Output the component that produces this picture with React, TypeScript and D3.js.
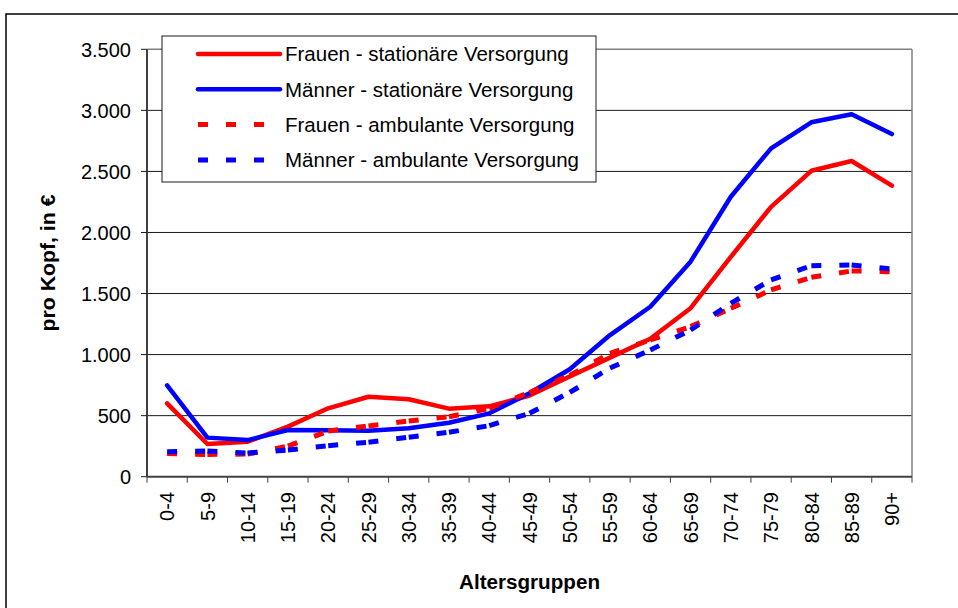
import React from 'react';
import * as d3 from 'd3';

const categories = ['0-4', '5-9', '10-14', '15-19', '20-24', '25-29', '30-34', '35-39', '40-44', '45-49',
  '50-54', '55-59', '60-64', '65-69', '70-74', '75-79', '80-84', '85-89', '90+'];

const frauenStationaer = [600, 268, 287, 410, 560, 655, 634, 557, 576, 665, 820, 975, 1130, 1380, 1800, 2210, 2505, 2585, 2383];
const maennerStationaer = [748, 320, 300, 382, 380, 377, 396, 442, 519, 683, 880, 1160, 1392, 1761, 2293, 2689, 2902, 2968, 2806];
const frauenAmbulant = [191, 182, 186, 250, 374, 415, 456, 491, 560, 690, 830, 1010, 1120, 1229, 1379, 1529, 1633, 1685, 1679];
const maennerAmbulant = [205, 210, 194, 219, 254, 282, 323, 364, 418, 519, 690, 890, 1037, 1201, 1420, 1611, 1728, 1734, 1701];

const yTicks = [0, 500, 1000, 1500, 2000, 2500, 3000, 3500];

const series = [
  { name: 'Frauen - stationäre Versorgung', values: frauenStationaer, color: '#ff0000', dashed: false },
  { name: 'Männer - stationäre Versorgung', values: maennerStationaer, color: '#0000ff', dashed: false },
  { name: 'Frauen - ambulante Versorgung', values: frauenAmbulant, color: '#ff0000', dashed: true },
  { name: 'Männer - ambulante Versorgung', values: maennerAmbulant, color: '#0000ff', dashed: true },
];

const W = 958;
const H = 608;
const left = 147, right = 912, top = 49.3, bottom = 476.7;
const font = '"Liberation Sans", Arial, sans-serif';

const de = d3.formatLocale({ decimal: ',', thousands: '.', grouping: [3], currency: ['', '€'] });
const fmt = de.format(',');

export default function App() {
  const x = d3.scaleBand().domain(categories).range([left, right]).padding(0);
  const y = d3.scaleLinear().domain([0, 3500]).range([bottom, top]);
  const cx = (c: string) => (x(c) as number) + x.bandwidth() / 2;

  const line = d3.line<number>()
    .x((d, i) => cx(categories[i]))
    .y(d => y(d));

  // dashed lines: every segment drawn on its own, so the pattern restarts at each point
  const segLine = d3.line<[string, number]>()
    .x(d => cx(d[0]))
    .y(d => y(d[1]));

  return (
    <svg width={W} height={H} style={{ position: 'absolute', left: 0, top: 0, background: '#fff' }}
      fontFamily={font}>
      <rect x={6} y={14} width={W + 20} height={H + 20} fill="#fff" stroke="#000" strokeWidth={1.5} />

      {/* grid */}
      {yTicks.slice(1, -1).map(t => (
        <line key={t} x1={left} x2={right} y1={y(t)} y2={y(t)} stroke="#1a1a1a" strokeWidth={1} />
      ))}
      <line x1={left} x2={right} y1={y(3500)} y2={y(3500)} stroke="#808080" strokeWidth={1.5} />
      <line x1={right} x2={right} y1={top} y2={bottom} stroke="#808080" strokeWidth={1.5} />

      {/* y axis */}
      <line x1={left} x2={left} y1={top} y2={bottom} stroke="#404040" strokeWidth={2} />
      {yTicks.map(t => (
        <g key={t}>
          <line x1={left - 6} x2={left} y1={y(t)} y2={y(t)} stroke="#1a1a1a" strokeWidth={1} />
          <text x={131} y={y(t)} dy="0.36em" textAnchor="end" fontSize={20} fill="#000">{fmt(t)}</text>
        </g>
      ))}

      {/* x axis */}
      <line x1={left} x2={right} y1={bottom} y2={bottom} stroke="#404040" strokeWidth={2} />
      {categories.map(c => (
        <line key={'t' + c} x1={x(c)} x2={x(c)} y1={bottom} y2={bottom + 6} stroke="#404040" strokeWidth={1} />
      ))}
      <line x1={right} x2={right} y1={bottom} y2={bottom + 6} stroke="#404040" strokeWidth={1} />
      {categories.map(c => (
        <text key={'l' + c} transform={`translate(${cx(c)},492) rotate(-90)`} dy="0.36em"
          textAnchor="end" fontSize={20} fill="#000">{c}</text>
      ))}

      {/* series */}
      {series.map(s => s.dashed
        ? (
          <g key={s.name}>
            {s.values.slice(1).map((v, i) => (
              <path key={i} d={segLine([[categories[i], s.values[i]], [categories[i + 1], v]]) || ''}
                fill="none" stroke={s.color} strokeWidth={5} strokeDasharray="10 18" />
            ))}
          </g>
        )
        : (
          <path key={s.name} d={line(s.values) || ''} fill="none" stroke={s.color} strokeWidth={4.5}
            strokeLinejoin="round" strokeLinecap="round" />
        ))}

      {/* legend */}
      <rect x={162} y={36} width={434} height={146} fill="#fff" stroke="#1a1a1a" strokeWidth={1} />
      {series.map((s, i) => {
        const ly = 54 + i * 35.3;
        return (
          <g key={'lg' + s.name}>
            <line x1={198} x2={280} y1={ly} y2={ly} stroke={s.color} strokeWidth={s.dashed ? 5 : 4.5}
              strokeDasharray={s.dashed ? '10 18' : undefined} strokeLinecap={s.dashed ? 'butt' : 'round'} />
            <text x={285} y={ly} dy="0.36em" fontSize={20.5} fill="#000">{s.name}</text>
          </g>
        );
      })}

      {/* axis titles */}
      <text transform="translate(48,263) rotate(-90)" dy="0.36em" textAnchor="middle" fontSize={20}
        fontWeight="bold" textLength={137} lengthAdjust="spacingAndGlyphs">pro Kopf, in €</text>
      <text x={529.5} y={589} textAnchor="middle" fontSize={20} fontWeight="bold"
        textLength={141} lengthAdjust="spacingAndGlyphs">Altersgruppen</text>
    </svg>
  );
}
